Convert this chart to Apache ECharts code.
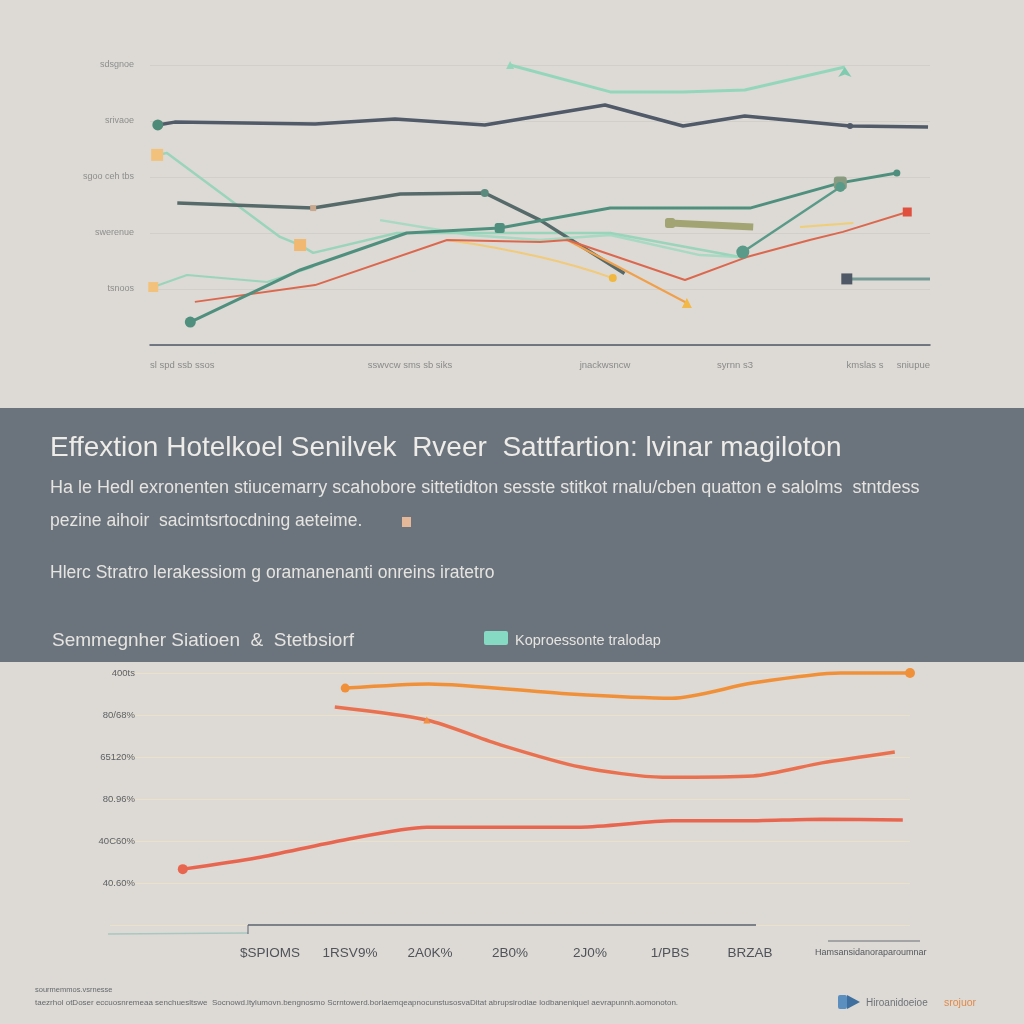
<!DOCTYPE html>
<html>
<head>
<meta charset="utf-8">
<script src="https://cdn.jsdelivr.net/npm/echarts@6/dist/echarts.min.js"></script>
<style>
html,body{margin:0;padding:0;background:#dddad5;}
#c{width:1024px;height:1024px;}
</style>
</head>
<body>
<div id="c"></div>
<script>
// ---------- DATA (top chart) ----------
var topXLabels = ['sl spd ssb ssos', '', '', '', 'sswvcw sms sb siks', '', '', 'jnackwsncw', '', 'syrnn s3', '', 'kmslas s', 'sniupue'];
var topYLabels = ['', 'tsnoos', 'swerenue', 'sgoo ceh tbs', 'srivaoe', 'sdsgnoe'];
var topDark    = [[0.12,78.6],[0.38,79.6],[2.54,78.9],[3.77,80.7],[5.15,78.6],[7.0,85.7],[8.2,78.2],[9.15,81.8],[10.77,78.2],[11.97,77.9]];
var topMintHi  = [[5.54,100],[7.08,90.4],[8.2,90.4],[9.15,91.1],[10.69,99.3]];
var topSlateG  = [[0.42,50.7],[2.51,48.9],[3.85,53.9],[5.15,54.3],[6.0,44.6],[7.3,25.5]];
var topMintA   = [[0.11,67.9],[0.26,68.6],[2.0,38.6],[2.31,35.7],[2.51,32.9],[3.8,40.0],[7.08,40.0],[9.08,31.4]];
var topTeal    = [[0.62,8.2],[2.31,26.8],[3.95,40.0],[5.38,41.8],[7.08,48.9],[9.23,48.9],[10.62,57.9],[11.49,61.4]];
var topRed     = [[0.69,15.4],[2.54,21.4],[4.57,37.5],[6.0,36.8],[6.42,37.5],[8.23,23.2],[9.18,31.4],[10.15,37.5],[10.66,40.4],[11.65,47.5]];
var topMintLow = [[0.05,20.7],[0.57,25.0],[1.8,22.5],[2.51,27.9]];
var topMintB   = [[3.54,44.6],[4.92,39.3],[6.0,37.5],[7.08,39.3],[8.46,32.1],[9.08,31.4]];
var topYellowA = [[4.57,37.5],[6.0,31.4],[7.12,23.9]];
var topYellowB = [[10.0,42.1],[10.82,43.6]];
var topOlive   = [[8.0,43.6],[9.28,42.1]];
var topOrange  = [[6.42,37.5],[8.26,15.0]];
var topSlateS  = [[10.72,23.6],[12.0,23.6]];
var topTealB   = [[9.12,33.2],[10.62,56.4]];

// ---------- DATA (bottom chart) ----------
var botXLabels = ['', '', '$SPIOMS', '1RSV9%', '2A0K%', '2B0%', '2J0%', '1/PBS', 'BRZAB', '', ''];
var botYLabels = ['', '40.60%', '40C60%', '80.96%', '65120%', '80/68%', '400ts'];
var botOrange  = [[2.94,5.64],[3.98,5.74],[5.75,5.5],[7.03,5.4],[8.03,5.76],[9.13,6.0],[10.0,6.0]];
var botRedMid  = [[2.81,5.19],[3.96,4.88],[4.88,4.29],[5.88,3.76],[6.91,3.52],[8.04,3.55],[8.9,3.86],[9.81,4.12]];
var botRedLow  = [[0.91,1.33],[1.84,1.6],[2.91,2.02],[3.96,2.33],[5.88,2.33],[7.03,2.48],[7.91,2.48],[8.9,2.52],[9.91,2.5]];

// ---------- helpers ----------
function pts(arr, marks) {
  marks = marks || {};
  return arr.map(function (p, i) {
    var m = marks[i];
    if (!m) return { value: p, symbol: 'none' };
    return { value: p, symbol: m.s || 'circle', symbolSize: m.z || 9, itemStyle: { color: m.c } };
  });
}
function line(name, data, color, width, opacity, xi, marks, smooth) {
  return {
    name: name, type: 'line', xAxisIndex: xi, yAxisIndex: xi,
    data: pts(data, marks), smooth: smooth || false, clip: false,
    lineStyle: { color: color, width: width, opacity: opacity == null ? 1 : opacity },
    itemStyle: { color: color }, showSymbol: true, silent: true, z: 3
  };
}

var chart = echarts.init(document.getElementById('c'), null, { renderer: 'canvas' });
var F = 'Liberation Sans, Arial, sans-serif';

var option = {
  backgroundColor: '#dddad5',
  animation: false,
  grid: [
    { left: 150, right: 94, top: 65, bottom: 679 },
    { left: 110, right: 114, top: 673, bottom: 99 }
  ],
  xAxis: [
    { gridIndex: 0, type: 'value', min: 0, max: 12, interval: 1,
      axisLine: { show: true, lineStyle: { color: '#4d5866', width: 1.5 } },
      axisTick: { show: false }, splitLine: { show: false },
      axisLabel: { color: '#8a8a8a', fontSize: 9.5, fontFamily: F, margin: 15,
        alignMinLabel: 'left', alignMaxLabel: 'right',
        formatter: function (v) { return topXLabels[Math.round(v)] || ''; } } },
    { gridIndex: 1, type: 'value', min: 0, max: 10, interval: 1,
      axisLine: { show: false }, axisTick: { show: false }, splitLine: { show: false },
      axisLabel: { color: '#50535a', fontSize: 13.5, fontFamily: F, margin: 21,
        formatter: function (v) { return botXLabels[Math.round(v)] || ''; } } }
  ],
  yAxis: [
    { gridIndex: 0, type: 'value', min: 0, max: 100, interval: 20,
      axisLine: { show: false }, axisTick: { show: false },
      splitLine: { show: true, lineStyle: { color: '#d2cfca', width: 1 } },
      axisLabel: { color: '#8e8e8e', fontSize: 9, fontFamily: F, margin: 16,
        formatter: function (v) { return topYLabels[Math.round(v / 20)] || ''; } } },
    { gridIndex: 1, type: 'value', min: 0, max: 6, interval: 1,
      axisLine: { show: false }, axisTick: { show: false },
      splitLine: { show: true, lineStyle: { color: '#e9e1c9', width: 1 } },
      axisLabel: { color: '#5e6066', fontSize: 9.5, fontFamily: F, margin: -25, align: 'right',
        formatter: function (v) { return botYLabels[Math.round(v)] || ''; } } }
  ],
  graphic: [
    { type: 'rect', shape: { x: 0, y: 408, width: 1024, height: 254 }, style: { fill: '#6b747d' }, z: 0 },
    { type: 'text', x: 50, y: 448, style: { text: 'Effextion Hotelkoel Senilvek  Rveer  Sattfartion: lvinar magiloton', fill: '#eeece8', font: '28px ' + F, textVerticalAlign: 'middle' }, z: 10 },
    { type: 'text', x: 50, y: 488, style: { text: 'Ha le Hedl exronenten stiucemarry scahobore sittetidton sesste stitkot rnalu/cben quatton e salolms  stntdess', fill: '#e6e4e0', font: '18px ' + F, textVerticalAlign: 'middle' }, z: 10 },
    { type: 'text', x: 50, y: 521, style: { text: 'pezine aihoir  sacimtsrtocdning aeteime.', fill: '#e6e4e0', font: '17.5px ' + F, textVerticalAlign: 'middle' }, z: 10 },
    { type: 'rect', shape: { x: 402, y: 517, width: 9, height: 10 }, style: { fill: '#e6b89a' }, z: 10 },
    { type: 'text', x: 50, y: 573, style: { text: 'Hlerc Stratro lerakessiom g oramanenanti onreins iratetro', fill: '#e6e4e0', font: '17.5px ' + F, textVerticalAlign: 'middle' }, z: 10 },
    { type: 'text', x: 52, y: 641, style: { text: 'Semmegnher Siatioen  &  Stetbsiorf', fill: '#e6e4e0', font: '19px ' + F, textVerticalAlign: 'middle' }, z: 10 },
    { type: 'rect', shape: { x: 484, y: 631, width: 24, height: 14, r: 2 }, style: { fill: '#86d9c2' }, z: 10 },
    { type: 'text', x: 515, y: 641, style: { text: 'Koproessonte tralodap', fill: '#e6e4e0', font: '14.5px ' + F, textVerticalAlign: 'middle' }, z: 10 },
    // bottom axis decoration
    { type: 'line', shape: { x1: 248, y1: 925, x2: 756, y2: 925 }, style: { stroke: '#5a6270', lineWidth: 1.5 }, z: 5 },
    { type: 'line', shape: { x1: 108, y1: 934, x2: 248, y2: 933 }, style: { stroke: '#a9c7c0', lineWidth: 1.5 }, z: 5 },
    { type: 'line', shape: { x1: 248, y1: 925, x2: 248, y2: 934 }, style: { stroke: '#5a6270', lineWidth: 1 }, z: 5 },
    { type: 'line', shape: { x1: 828, y1: 941, x2: 920, y2: 941 }, style: { stroke: '#6a6f76', lineWidth: 1 }, z: 5 },
    { type: 'text', x: 815, y: 953, style: { text: 'Hamsansidanoraparoumnar', fill: '#55585e', font: '9px ' + F, textVerticalAlign: 'middle' }, z: 10 },
    // footer
    { type: 'text', x: 35, y: 990, style: { text: 'sourmemmos.vsrnesse', fill: '#66696e', font: '7.5px ' + F, textVerticalAlign: 'middle' }, z: 10 },
    { type: 'text', x: 35, y: 1003, style: { text: 'taezrhol otDoser eccuosnremeaa senchuesltswe  Socnowd.ltylumovn.bengnosmo Scrntowerd.borlaemqeapnocunstusosvaDitat abrupsirodiae lodbaneniquel aevrapunnh.aomonoton.', fill: '#66696e', font: '8px ' + F, textVerticalAlign: 'middle' }, z: 10 },
    { type: 'rect', shape: { x: 838, y: 995, width: 9, height: 14, r: 2 }, style: { fill: '#5b8fc0' }, z: 10 },
    { type: 'polygon', shape: { points: [[847, 995], [860, 1002], [847, 1009]] }, style: { fill: '#3f6f9f' }, z: 10 },
    { type: 'text', x: 866, y: 1003, style: { text: 'Hiroanidoeioe', fill: '#6e7278', font: '10px ' + F, textVerticalAlign: 'middle' }, z: 10 },
    { type: 'text', x: 944, y: 1003, style: { text: 'srojuor', fill: '#e08a4a', font: '10.5px ' + F, textVerticalAlign: 'middle' }, z: 10 }
  ],
  series: [
    line('a', topMintHi, '#94d6bb', 3, 1, 0, { 0: { c: '#94d6bb', s: 'triangle', z: 8 }, 4: { c: '#7fcbb0', s: 'arrow', z: 10 } }),
    line('b', topDark, '#505a68', 3.5, 1, 0, { 0: { c: '#4e8a78', z: 11 }, 8: { c: '#505a68', z: 6 } }),
    line('c', topMintA, '#92d3b8', 2.5, 0.9, 0, { 0: { c: '#f2c27c', s: 'rect', z: 12 }, 3: { c: '#f0b870', s: 'rect', z: 12 } }),
    line('d', topSlateG, '#566a6a', 3.5, 1, 0, { 1: { c: '#c9a890', s: 'rect', z: 6 }, 3: { c: '#5a8a7e', z: 8 } }),
    line('e', topMintB, '#9ad8be', 2.5, 0.8, 0),
    line('f', topMintLow, '#92d3b8', 2, 0.9, 0, { 0: { c: '#f2c27c', s: 'rect', z: 10 } }),
    line('g', topYellowA, '#f3c870', 2, 0.9, 0, { 2: { c: '#f0b840', s: 'circle', z: 8 } }, true),
    line('h', topYellowB, '#f1cc6a', 2, 0.9, 0),
    line('i', topOrange, '#f0a04a', 2, 1, 0, { 1: { c: '#f2b84a', s: 'triangle', z: 10 } }),
    line('j', topRed, '#db684e', 2, 1, 0, { 9: { c: '#e0503e', s: 'rect', z: 9 } }),
    line('k', topTeal, '#4f8f7e', 3, 1, 0, { 0: { c: '#4f8f7e', z: 11 }, 3: { c: '#4f8f7e', s: 'roundRect', z: 10 }, 6: { c: '#889a80', s: 'roundRect', z: 13 }, 7: { c: '#4f8f7e', z: 7 } }),
    line('l', topTealB, '#5a9a88', 2.5, 1, 0, { 0: { c: '#5a9a88', z: 13 }, 1: { c: '#5a9a88', z: 10 } }),
    line('m', topOlive, '#a2a474', 7, 1, 0, { 0: { c: '#a2a474', s: 'roundRect', z: 10 } }),
    line('n', topSlateS, '#6c9590', 3, 0.9, 0, { 0: { c: '#4f5866', s: 'rect', z: 11 } }),
    line('o', botOrange, '#f0913a', 3.5, 1, 1, { 0: { c: '#f0913a', z: 9 }, 6: { c: '#f0913a', z: 10 } }, 0.25),
    line('p', botRedMid, '#ea7150', 3.5, 1, 1, { 1: { c: '#f09040', s: 'triangle', z: 7 } }, 0.25),
    line('q', botRedLow, '#e8664f', 3.5, 1, 1, { 0: { c: '#e8664f', z: 10 } }, 0.25)
  ]
};
chart.setOption(option);
</script>
</body>
</html>
